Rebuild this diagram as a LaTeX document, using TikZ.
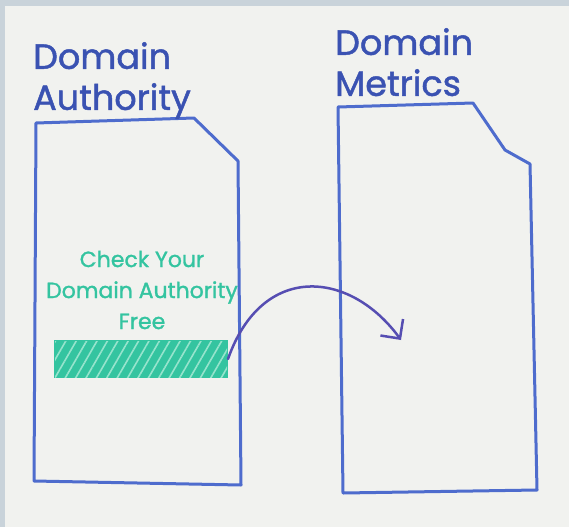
\documentclass[tikz,border=0pt]{standalone}
\usepackage{fontspec}
\setmainfont{Poppins}
\newfontfamily\markerfont{Poppins}[FakeBold=1.3]
\usepackage{tikz}
\usetikzlibrary{arrows.meta,patterns.meta}
\usetikzlibrary{positioning}

\definecolor{board}{RGB}{241,242,239}
\definecolor{frame}{RGB}{201,211,218}
\definecolor{pageblue}{RGB}{78,108,205}
\definecolor{ink}{RGB}{58,82,178}
\definecolor{marker}{RGB}{52,196,160}
\definecolor{streak}{RGB}{150,228,205}
\definecolor{arrowink}{RGB}{86,78,178}

\tikzset{
  page/.style={draw=pageblue, line width=3pt, line join=round},
  title/.style={anchor=north west, align=left, text=ink, inner sep=0pt,
    font=\markerfont\fontsize{35}{41}\selectfont},
  promo/.style={align=center, text=marker, inner sep=0pt,
    font=\markerfont\fontsize{22}{31}\selectfont},
  bar/.style={draw=marker, line width=2pt, fill=marker, minimum width=172pt,
    minimum height=36pt, inner sep=0pt,
    postaction={pattern={Lines[angle=60,distance=9pt,line width=1.6pt]}, pattern color=streak}},
  link/.style={draw=arrowink, line width=2.5pt, line cap=round,
    -{Straight Barb[length=14pt,width=28pt,line width=2.5pt]}}
}

\begin{document}
\begin{tikzpicture}[x=1pt,y=-1pt]
  % whiteboard
  \fill[board] (0,0) rectangle (569,527);
  \fill[frame] (0,0) rectangle (569,6);
  \fill[frame] (0,0) rectangle (5,527);
  % the two pages
  \draw[page] (36,123) -- (194,118) -- (238,161) -- (241,485) -- (34,481) -- cycle;
  \draw[page] (338,107) -- (473,103) -- (505,150) -- (530,164) -- (537,490) -- (343,493) -- cycle;
  \node[title] (authtitle) at (33,42) {Domain\\Authority};
  \node[title] (metrtitle) at (335,28) {Domain\\Metrics};
  \node[promo] (promo) at (142,290) {Check Your\\Domain Authority\\Free};
  \node[bar] (bar) at (141,359) {};
  \coordinate (tip) at (401,340);
  \draw[link] (bar.east) .. controls (262,262) and (350,270) .. (tip);
\end{tikzpicture}
\end{document}
